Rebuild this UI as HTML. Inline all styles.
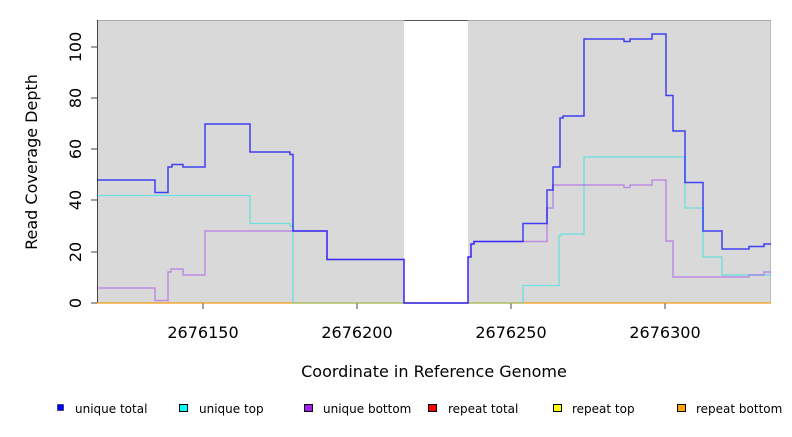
<!DOCTYPE html>
<html><head><meta charset="utf-8"><style>
body{margin:0;background:#fff;}
svg text{font-family:"DejaVu Sans","Liberation Sans",sans-serif;}
</style></head><body>
<svg width="792" height="432" viewBox="0 0 792 432" xmlns="http://www.w3.org/2000/svg">
<rect x="97" y="20" width="307" height="283" fill="#d9d9d9"/>
<rect x="468" y="20" width="303" height="283" fill="#d9d9d9"/>
<line x1="97" y1="20.5" x2="771" y2="20.5" stroke="#aaa" stroke-width="1"/>
<line x1="404" y1="20.5" x2="468" y2="20.5" stroke="#555" stroke-width="1"/>
<line x1="770.5" y1="20" x2="770.5" y2="303" stroke="#bbb"/>
<line x1="97.5" y1="20" x2="97.5" y2="303" stroke="#444"/>
<g stroke="#444">
<line x1="91" y1="303" x2="97" y2="303"/><line x1="91" y1="252" x2="97" y2="252"/><line x1="91" y1="200" x2="97" y2="200"/><line x1="91" y1="149" x2="97" y2="149"/><line x1="91" y1="98" x2="97" y2="98"/><line x1="91" y1="47" x2="97" y2="47"/>
<line x1="203" y1="303" x2="203" y2="309"/><line x1="357" y1="303" x2="357" y2="309"/><line x1="511" y1="303" x2="511" y2="309"/><line x1="665" y1="303" x2="665" y2="309"/>
</g>
<g font-size="16" fill="#000" text-anchor="middle">
<text transform="translate(75,303) rotate(-90)" dy="6">0</text>
<text transform="translate(75,252) rotate(-90)" dy="6">20</text>
<text transform="translate(75,200) rotate(-90)" dy="6">40</text>
<text transform="translate(75,149) rotate(-90)" dy="6">60</text>
<text transform="translate(75,98) rotate(-90)" dy="6">80</text>
<text transform="translate(75,47) rotate(-90)" dy="6">100</text>
<text x="203" y="338">2676150</text><text x="357" y="338">2676200</text><text x="511" y="338">2676250</text><text x="665" y="338">2676300</text>
<text x="434" y="377">Coordinate in Reference Genome</text>
<text transform="translate(37,162) rotate(-90)">Read Coverage Depth</text>
</g>
<line x1="97" y1="303" x2="771" y2="303" stroke="#f39c12" stroke-width="1.3"/>
<line x1="293" y1="303" x2="523" y2="303" stroke="#7fc97f" stroke-width="1.3" stroke-opacity="0.7"/>
<g fill="none" stroke-linejoin="miter">
<polyline stroke="#00e5e5" stroke-opacity="0.5" stroke-width="1.3" points="97,195.5 250,195.5 250,223.5 290,223.5 290,226 293,226 293,303"/>
<polyline stroke="#00e5e5" stroke-opacity="0.5" stroke-width="1.3" points="523,303 523,285.5 559,285.5 559,235.5 561,235.5 561,234 584,234 584,157 685,157 685,208 703,208 703,257 722,257 722,275 771,275"/>
<polyline stroke="#a040f0" stroke-opacity="0.5" stroke-width="1.5" points="97,288 155,288 155,300.5 168,300.5 168,272 171,272 171,269 183,269 183,275 205,275 205,231 293,231 327,231 327,259.5 404,259.5 404,303 468,303 468,257 471,257 471,244 474,244 474,241.5 547,241.5 547,208 553,208 553,185 624,185 624,187.5 630,187.5 630,185 652,185 652,180 666,180 666,241 673,241 673,277 749,277 749,275 764,275 764,272 771,272"/>
<polyline stroke="#0000ff" stroke-opacity="0.7" stroke-width="1.5" points="97,180 155,180 155,192.5 168,192.5 168,167 172,167 172,164.5 183,164.5 183,167 205,167 205,124 250,124 250,152 290,152 290,154.5 293,154.5 293,231 327,231 327,259.5 404,259.5 404,303 468,303 468,257 471,257 471,244 474,244 474,241.5 523,241.5 523,223.5 547,223.5 547,190 553,190 553,167 560,167 560,118 563,118 563,116 584,116 584,39 624,39 624,41.5 630,41.5 630,39 652,39 652,34 666,34 666,95.5 673,95.5 673,131 685,131 685,182.5 703,182.5 703,231 722,231 722,249 749,249 749,246.5 764,246.5 764,244 771,244"/>
</g>
<g font-size="12" fill="#000">
<rect x="57.5" y="404.5" width="6" height="6" fill="#0000ff" stroke="#000" stroke-width="0.5"/><text x="75" y="413">unique total</text>
<rect x="179.5" y="404.5" width="8" height="7" fill="#00ffff" stroke="#000"/><text x="199" y="413">unique top</text>
<rect x="304.5" y="404.5" width="8" height="7" fill="#a020f0" stroke="#000"/><text x="323" y="413">unique bottom</text>
<rect x="428.5" y="404.5" width="8" height="7" fill="#ff0000" stroke="#000"/><text x="448" y="413">repeat total</text>
<rect x="553.5" y="404.5" width="8" height="7" fill="#ffff00" stroke="#000"/><text x="572" y="413">repeat top</text>
<rect x="677.5" y="404.5" width="8" height="7" fill="#ffa500" stroke="#000"/><text x="696" y="413">repeat bottom</text>
</g>
</svg>
</body></html>
